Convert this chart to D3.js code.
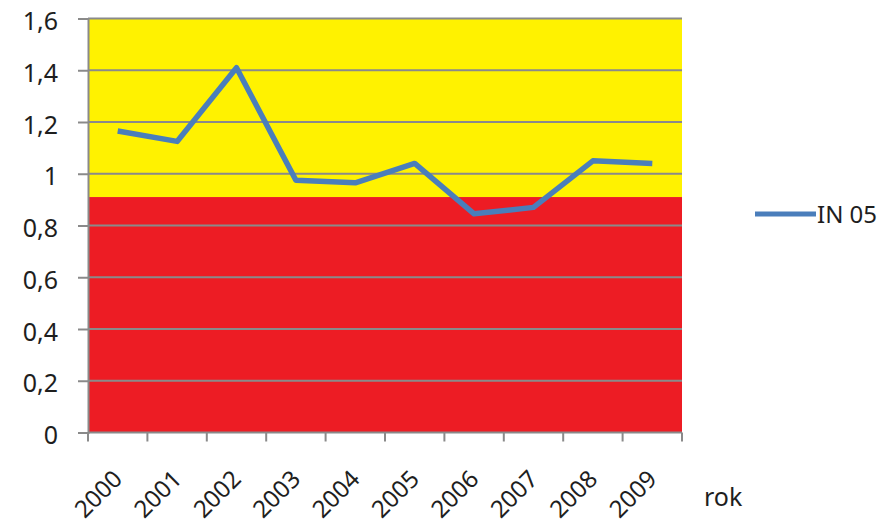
<!DOCTYPE html>
<html>
<head>
<meta charset="utf-8">
<script src="https://cdn.jsdelivr.net/npm/d3@7"></script>
<style>
  body { margin: 0; background: #fff; }
  svg text { font-family: "Noto Sans", "Open Sans", sans-serif; fill: #1e1e1e; }
</style>
</head>
<body>
<svg id="chart" width="894" height="527"></svg>
<script>
// Yearly index values
const years = ["2000","2001","2002","2003","2004","2005","2006","2007","2008","2009"];
const values = [1.165, 1.125, 1.41, 0.975, 0.965, 1.04, 0.845, 0.87, 1.05, 1.04];
const yTicks = [0, 0.2, 0.4, 0.6, 0.8, 1, 1.2, 1.4, 1.6];
const threshold = 0.91;   // boundary between the red and yellow zones
const seriesName = "IN 05";
const xTitle = "rok";

const svg = d3.select("#chart");
const plotLeft = 88, plotRight = 682, plotTop = 18.5, plotBottom = 432.5;
const gridColor = "#8a8a8a";

const x = d3.scaleBand().domain(years).range([plotLeft, plotRight]);
const y = d3.scaleLinear().domain([0, 1.6]).range([plotBottom, plotTop]);

// Background zones
svg.append("rect")
  .attr("x", plotLeft).attr("y", y(1.6))
  .attr("width", plotRight - plotLeft).attr("height", y(threshold) - y(1.6))
  .attr("fill", "#fff200");
svg.append("rect")
  .attr("x", plotLeft).attr("y", y(threshold))
  .attr("width", plotRight - plotLeft).attr("height", y(0) - y(threshold))
  .attr("fill", "#ed1c24");

// Horizontal gridlines
svg.append("g").selectAll("line")
  .data(yTicks.filter(d => d > 0))
  .join("line")
  .attr("x1", plotLeft).attr("x2", plotRight)
  .attr("y1", d => y(d)).attr("y2", d => y(d))
  .attr("stroke", gridColor).attr("stroke-width", 2);

// Y axis
const yAxis = svg.append("g")
  .attr("transform", `translate(${plotLeft},0)`)
  .call(d3.axisLeft(y).tickValues(yTicks).tickSize(10).tickPadding(20)
    .tickFormat(d => String(d).replace(".", ",")));
yAxis.select(".domain").attr("stroke", gridColor).attr("stroke-width", 2);
yAxis.selectAll(".tick line").attr("stroke", gridColor).attr("stroke-width", 2);
yAxis.selectAll(".tick text")
  .attr("font-size", 25).attr("fill", "#1e1e1e")
  .attr("font-family", "'Noto Sans', sans-serif")
  .attr("dy", "0.44em");

// X axis: ticks on category boundaries
const xAxisG = svg.append("g");
xAxisG.append("line")
  .attr("x1", plotLeft).attr("x2", plotRight).attr("y1", plotBottom).attr("y2", plotBottom)
  .attr("stroke", gridColor).attr("stroke-width", 2);
const bounds = years.map(d => x(d)).concat([plotRight]);
xAxisG.selectAll("line.tk").data(bounds).join("line")
  .attr("class", "tk")
  .attr("x1", d => d).attr("x2", d => d)
  .attr("y1", plotBottom).attr("y2", plotBottom + 9)
  .attr("stroke", gridColor).attr("stroke-width", 2);
xAxisG.selectAll("text").data(years).join("text")
  .attr("transform", d => `translate(${x(d) + x.bandwidth() / 2 + 6},${plotBottom + 48}) rotate(-45)`)
  .attr("text-anchor", "end")
  .attr("font-size", 24)
  .text(d => d);

// Axis title
svg.append("text")
  .attr("x", 704).attr("y", 506)
  .attr("font-size", 25)
  .text(xTitle);

// Series line
const line = d3.line()
  .x((d, i) => x(years[i]) + x.bandwidth() / 2)
  .y(d => y(d));
svg.append("path")
  .datum(values)
  .attr("d", line)
  .attr("fill", "none")
  .attr("stroke", "#4a7ebb")
  .attr("stroke-width", 5.5)
  .attr("stroke-linejoin", "round");

// Legend
const lg = svg.append("g").attr("transform", "translate(755,214)");
lg.append("line").attr("x1", 0).attr("x2", 61).attr("y1", 0).attr("y2", 0)
  .attr("stroke", "#4a7ebb").attr("stroke-width", 5);
lg.append("text").attr("x", 62).attr("y", 9)
  .attr("font-size", 24).text(seriesName);
</script>
</body>
</html>
